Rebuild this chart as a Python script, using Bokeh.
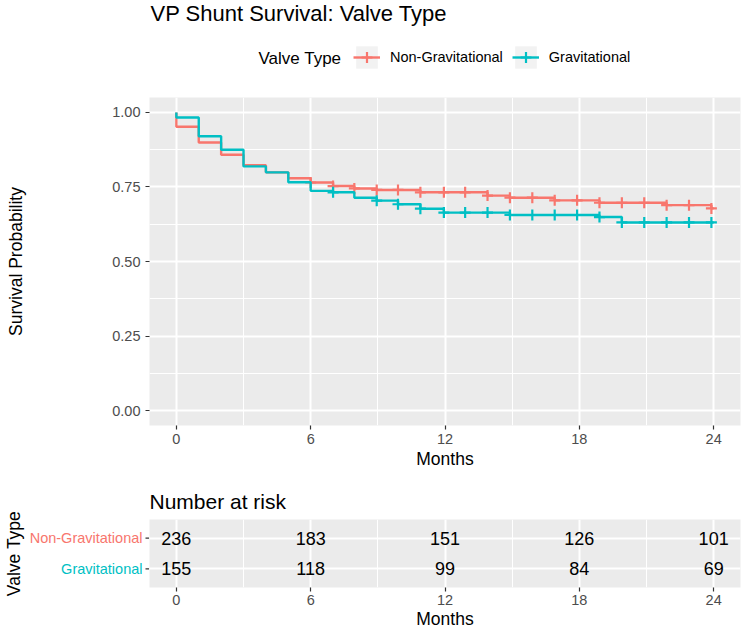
import numpy as np
from bokeh.plotting import figure
from bokeh.models import (Range1d, FixedTicker, Legend, LegendItem, Title,
                          ColumnDataSource, PrintfTickFormatter)
from bokeh.layouts import column, row
from bokeh.embed import file_html
from bokeh.resources import INLINE
from bokeh.core.properties import value

# ---------------- data ----------------
groups = ["Non-Gravitational", "Gravitational"]
colors = ["#F8766D", "#00BFC4"]

# Kaplan-Meier steps (months, survival probability after the step)
ng_time = [0, 0, 1, 2, 3, 4, 5, 6, 7, 7.95, 8.95, 10.9, 13.9, 14.9, 16.9, 18.9, 21.9, 23.9, 24]
ng_surv = [1.0, 0.952, 0.899, 0.858, 0.823, 0.799, 0.779, 0.765, 0.753, 0.745, 0.740,
           0.732, 0.721, 0.714, 0.705, 0.697, 0.689, 0.678, 0.678]
ng_censor = [6, 7, 7.95, 8.95, 9.9, 10.9, 11.95, 12.9, 13.9, 14.9, 15.9, 16.9, 17.9,
             18.9, 19.9, 20.9, 21.9, 22.9, 23.9]

g_time = [0, 0, 1, 2, 3, 4, 5, 6, 7, 7.95, 8.95, 9.9, 10.9, 11.95, 14.9, 18.9, 19.9, 24]
g_surv = [1.0, 0.983, 0.920, 0.875, 0.819, 0.799, 0.766, 0.737, 0.732, 0.714, 0.704,
          0.692, 0.677, 0.664, 0.656, 0.649, 0.631, 0.631]
g_censor = [7, 8.95, 9.9, 10.9, 11.95, 12.9, 13.9, 14.9, 15.9, 16.9, 17.9, 18.9, 19.9,
            20.9, 21.9, 22.9, 23.9]

risk_times = [0, 6, 12, 18, 24]
ng_risk = [236, 183, 151, 126, 101]
g_risk = [155, 118, 99, 84, 69]

x_ticks = [0, 6, 12, 18, 24]
x_minor = [3, 9, 15, 21]
y_ticks = [0, 0.25, 0.5, 0.75, 1.0]
y_minor = [0.125, 0.375, 0.625, 0.875]

title_text = "VP Shunt Survival: Valve Type"
legend_title = "Valve Type"
table_title = "Number at risk"

FONT = "Liberation Sans"
X_START, X_END = -1.2, 25.2
PANEL = "#EBEBEB"
W = 744
LEFT = 149          # frame starts here
RIGHT = 4
HEAD_H = 96
MAIN_H = 377
TAB_H = 159
TAB_TOP, TAB_BOT = 46, 45


def style_axes(fig):
    for ax in fig.xaxis + fig.yaxis:
        ax.axis_line_color = None
        ax.major_tick_line_color = "#333333"
        ax.major_tick_line_width = 1.2
        ax.major_tick_out = 4
        ax.major_tick_in = 0
        ax.minor_tick_line_color = None
        ax.major_label_text_font = FONT
        ax.major_label_text_font_size = "14.5px"
        ax.major_label_text_color = "#4D4D4D"
        ax.axis_label_text_font = FONT
        ax.axis_label_text_font_size = "17.5px"
        ax.axis_label_text_font_style = "normal"
        ax.axis_label_text_color = "black"
    for g in fig.xgrid:
        g.grid_line_color = "white"
        g.grid_line_width = 2
        g.minor_grid_line_color = "white"
        g.minor_grid_line_width = 1
    for g in fig.ygrid:
        g.grid_line_color = "white"
        g.grid_line_width = 2
    fig.background_fill_color = PANEL
    fig.border_fill_color = "white"
    fig.outline_line_color = None


# ---------------- header: title + legend ----------------
h = figure(width=W, height=HEAD_H, x_range=Range1d(X_START, X_END),
           y_range=Range1d(0, HEAD_H), x_axis_location=None, y_axis_location=None,
           output_backend="svg", toolbar_location=None, min_border_left=LEFT,
           min_border_right=RIGHT, min_border_top=0, min_border_bottom=0)
h.outline_line_color = None
h.xgrid.visible = False
h.ygrid.visible = False
h.text(x=[X_START], y=[HEAD_H - 13], text=[title_text], x_offset=1, text_align="left",
       text_baseline="middle", text_font=value(FONT), text_font_size="22px",
       text_color="black")
h.text(x=[X_START], y=[HEAD_H - 58], text=[legend_title], x_offset=109,
       text_align="left", text_baseline="middle", text_font=value(FONT),
       text_font_size="17px", text_color="black")
key_bg = h.quad(left=[ng_time[0]], right=[ng_time[1]], top=[ng_surv[0]],
                bottom=[ng_surv[1]], fill_color="#F2F2F2", line_color=None, visible=False)
items = []
for name, col, tt, ss in [(groups[0], colors[0], ng_time, ng_surv),
                          (groups[1], colors[1], g_time, g_surv)]:
    ln = h.step(x=tt[:2], y=ss[:2], mode="after", line_color=col, line_width=2.4,
                visible=False)
    mk = h.scatter(x=tt[:1], y=ss[:1], marker="cross", size=11, line_width=2.2,
                   line_color=col, visible=False)
    items.append(LegendItem(label=name, renderers=[key_bg, ln, mk]))
legend = Legend(items=items, orientation="horizontal", location=(204, 25),
                label_text_font=FONT, label_text_font_size="14.5px",
                label_text_color="black", label_standoff=10, spacing=9,
                glyph_width=27, glyph_height=28, padding=0, margin=0,
                border_line_color=None, background_fill_color=None,
                inactive_fill_alpha=0)
h.add_layout(legend)

# ---------------- survival plot ----------------
p = figure(width=W, height=MAIN_H, x_range=Range1d(X_START, X_END),
           y_range=Range1d(-0.05, 1.05), output_backend="svg", toolbar_location=None,
           min_border_left=LEFT, min_border_right=RIGHT, min_border_top=1,
           min_border_bottom=48)
p.xaxis.ticker = FixedTicker(ticks=x_ticks, minor_ticks=x_minor)
p.yaxis.ticker = FixedTicker(ticks=y_ticks, minor_ticks=y_minor)
p.yaxis.formatter = PrintfTickFormatter(format="%.2f")
p.xaxis.axis_label = "Months"
p.yaxis.axis_label = "Survival Probability"
style_axes(p)
for g in p.ygrid:
    g.minor_grid_line_color = "white"
    g.minor_grid_line_width = 1
p.xaxis.major_label_standoff = 4
p.xaxis.axis_label_standoff = 2
p.yaxis.major_label_standoff = 5
p.yaxis.axis_label_standoff = 83

for name, col, tt, ss, cc in [(groups[0], colors[0], ng_time, ng_surv, ng_censor),
                              (groups[1], colors[1], g_time, g_surv, g_censor)]:
    p.step(x=tt, y=ss, mode="after", line_color=col, line_width=2.4)
    idx = np.searchsorted(np.array(tt), np.array(cc), side="right") - 1
    cy = [ss[i] for i in idx]
    p.scatter(x=cc, y=cy, marker="cross", size=11, line_width=2.2, line_color=col)

# ---------------- risk table ----------------
row_y = [2, 1]
t = figure(width=W - LEFT, height=TAB_H, x_range=Range1d(X_START, X_END),
           y_range=Range1d(0.4, 2.6), output_backend="svg", toolbar_location=None,
           y_axis_location=None, min_border_left=0, min_border_right=RIGHT,
           min_border_top=TAB_TOP, min_border_bottom=TAB_BOT)
t.xaxis.ticker = FixedTicker(ticks=x_ticks, minor_ticks=x_minor)
t.xaxis.axis_label = "Months"
style_axes(t)
for g in t.ygrid:
    g.ticker = FixedTicker(ticks=row_y, minor_ticks=[])
    g.minor_grid_line_color = None
t.xaxis.major_label_standoff = 3
t.xaxis.axis_label_standoff = 1

tsrc = ColumnDataSource(data=dict(
    x=risk_times + risk_times,
    y=[row_y[0]] * len(risk_times) + [row_y[1]] * len(risk_times),
    txt=[str(v) for v in ng_risk + g_risk]))
t.text(x="x", y="y", text="txt", source=tsrc, text_align="center",
       text_baseline="middle", text_font=value(FONT), text_font_size="18px",
       text_color="black")
t.add_layout(Title(text=table_title, text_font=FONT, text_font_size="21px",
                   text_font_style="normal", text_color="black", align="left",
                   standoff=14), "above")

# left side of the table: coloured group labels, tick marks and axis title
lab = figure(width=LEFT, height=TAB_H, x_range=Range1d(-1, 0), y_range=Range1d(0.4, 2.6),
             x_axis_location=None, output_backend="svg", toolbar_location=None,
             min_border_left=0, min_border_right=0, min_border_top=TAB_TOP,
             min_border_bottom=TAB_BOT)
lab.outline_line_color = None
lab.xgrid.visible = False
lab.ygrid.visible = False
lab.yaxis.ticker = FixedTicker(ticks=[])
lab.yaxis.axis_line_color = None
lab.yaxis.major_tick_line_color = None
lab.yaxis.minor_tick_line_color = None
lab.yaxis.major_tick_out = 0
lab.yaxis.major_label_standoff = 0
lab.yaxis.axis_label = "Valve Type"
lab.yaxis.axis_label_standoff = 0
lab.yaxis.axis_label_text_font = FONT
lab.yaxis.axis_label_text_font_size = "17.5px"
lab.yaxis.axis_label_text_font_style = "normal"
lab.yaxis.axis_label_text_color = "black"
lsrc = ColumnDataSource(data=dict(x=[0, 0], y=row_y, txt=groups, col=colors))
lab.text(x="x", y="y", text="txt", source=lsrc, text_align="right",
         text_baseline="middle", x_offset=-7, text_font=value(FONT),
         text_font_size="14.5px", text_color="col")
lab.scatter(x="x", y="y", source=lsrc, marker="dash", size=8, line_width=1.2,
            line_color="#333333")

layout = column(h, p, row(lab, t))
open("out.html", "w").write(file_html(layout, INLINE))
